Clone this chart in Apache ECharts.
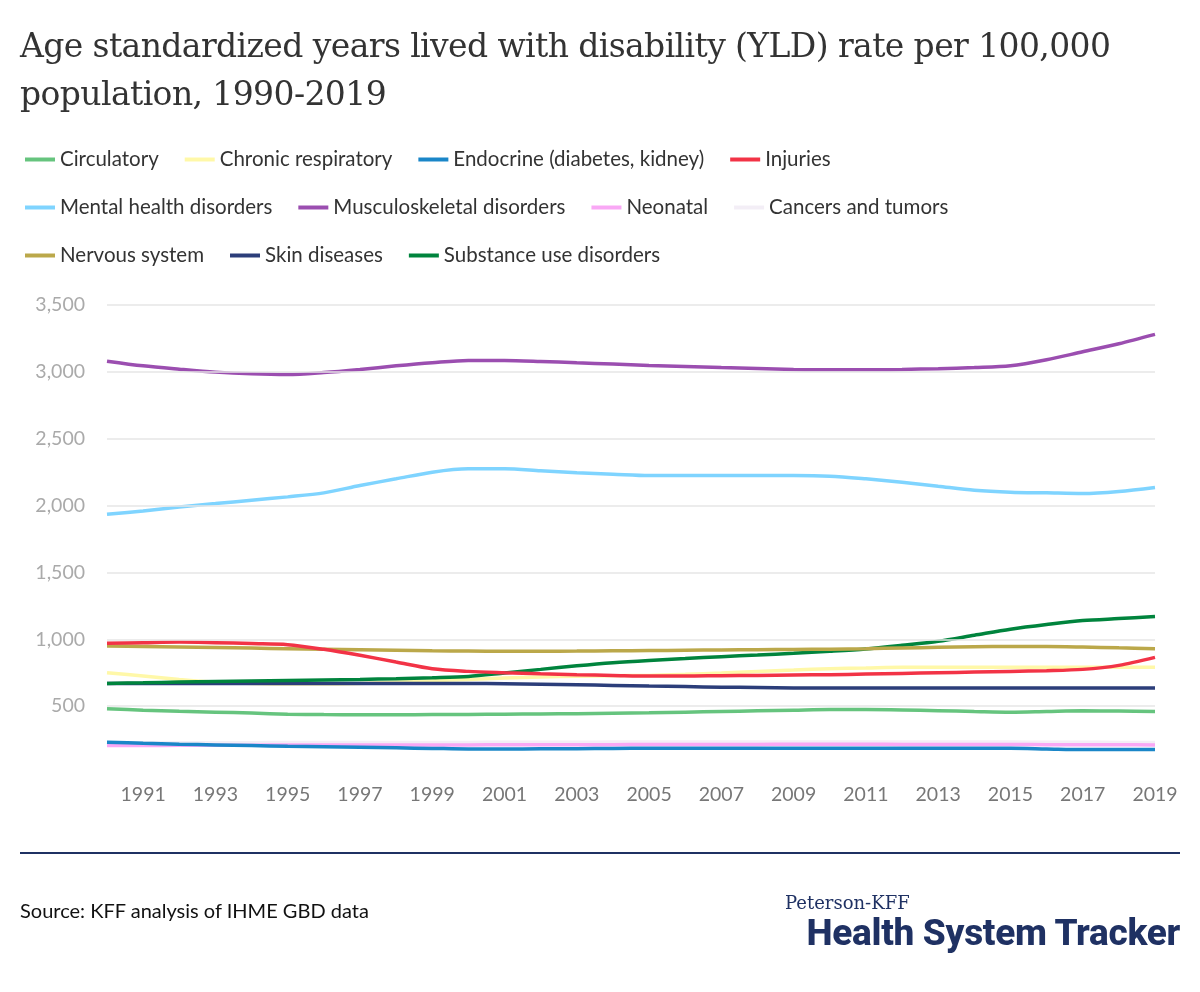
<!DOCTYPE html>
<html><head><meta charset="utf-8">
<script src="https://cdn.jsdelivr.net/npm/echarts@6/dist/echarts.min.js"></script>
<style>
body{margin:0;background:#fff;font-family:Lato,sans-serif}
#t{position:absolute;left:20px;top:22px;font:33px "DejaVu Serif",serif;color:#333;line-height:48px;letter-spacing:-0.6px}
#c{position:absolute;left:0;top:0;width:1200px;height:992px}
#hr{position:absolute;left:20px;top:852px;width:1160px;border-top:2px solid #1f3163}
#src{position:absolute;left:20px;top:898px;font-size:20px;color:#111}
#l1{position:absolute;left:785px;top:892px;font:18px "DejaVu Serif",serif;color:#1f3163}
#l2{position:absolute;right:20px;top:911px;font:800 37px Roboto,sans-serif;color:#1f3163;letter-spacing:-0.3px}
</style></head><body>
<div id="c"></div>
<div id="t">Age standardized years lived with disability (YLD) rate per 100,000<br>population, 1990-2019</div>
<div id="hr"></div>
<div id="src">Source: KFF analysis of IHME GBD data</div>
<div id="l1">Peterson-KFF</div>
<div id="l2">Health System Tracker</div>
<script>
const years = [];
for (let y = 1990; y <= 2019; y++) years.push(String(y));

const circulatory = [480,470,462,455,448,440,437,436,436,437,438,440,442,444,447,450,455,460,465,470,475,475,472,466,460,455,460,465,463,460];
const chronicResp = [750,725,700,680,670,665,665,670,680,690,700,710,718,724,728,730,738,748,760,770,780,785,790,790,790,790,790,790,790,790];
const endocrine = [230,222,215,210,205,200,196,192,188,184,180,180,181,182,183,185,185,185,185,185,185,185,185,185,185,185,180,175,175,175];
const injuries = [970,975,980,975,968,960,925,880,830,780,760,750,742,735,730,725,725,728,730,733,735,740,745,750,755,760,765,775,805,865];
const mental = [1935,1960,1990,2015,2040,2065,2095,2150,2200,2250,2275,2275,2260,2245,2235,2225,2225,2225,2225,2225,2220,2200,2175,2145,2115,2100,2095,2090,2105,2135];
const musculo = [3080,3045,3020,2998,2985,2980,2995,3018,3045,3068,3085,3085,3078,3068,3058,3048,3040,3032,3025,3018,3015,3015,3018,3024,3032,3045,3090,3150,3210,3280];
const neonatal = [205,206,207,208,208,209,209,210,210,210,210,211,211,212,212,213,213,214,214,215,215,215,214,214,213,213,212,212,211,210];
const cancers = [225,226,226,227,227,228,228,228,229,229,229,230,230,230,231,231,231,232,232,232,232,232,232,231,231,231,230,230,229,228];
const nervous = [950,946,942,938,934,930,926,922,918,914,912,911,911,912,914,916,918,920,922,924,926,930,935,940,944,946,946,942,936,930];
const skin = [670,670,670,670,670,670,670,670,670,670,670,668,664,660,655,650,646,642,639,636,635,635,635,635,635,635,635,635,635,635];
const substance = [670,675,680,684,688,692,696,700,705,712,722,748,775,802,825,842,856,870,882,895,910,928,955,985,1030,1075,1110,1140,1155,1170];

const gridVals = [500,1000,1500,2000,2500,3000,3500];

const defs = [
  ['Circulatory', circulatory, '#66c47e'],
  ['Chronic respiratory', chronicResp, '#fff8a8'],
  ['Endocrine (diabetes, kidney)', endocrine, '#1a86c8'],
  ['Injuries', injuries, '#f23346'],
  ['Mental health disorders', mental, '#7fd4ff'],
  ['Musculoskeletal disorders', musculo, '#9b4eb0'],
  ['Neonatal', neonatal, '#f9a8f5'],
  ['Cancers and tumors', cancers, '#f3eef6'],
  ['Nervous system', nervous, '#bba84a'],
  ['Skin diseases', skin, '#2c3e7a'],
  ['Substance use disorders', substance, '#00843d']
];
const order = ['Cancers and tumors','Neonatal','Endocrine (diabetes, kidney)','Circulatory','Chronic respiratory','Skin diseases','Substance use disorders','Nervous system','Injuries','Mental health disorders','Musculoskeletal disorders'];

const series = order.map(n => {
  const d = defs.find(x => x[0] === n);
  return {
    name: d[0], type: 'line', data: d[1], smooth: 0.3, showSymbol: false,
    lineStyle: { width: 3.5, color: d[2] }, itemStyle: { color: d[2] }, z: 3
  };
});
series.push({
  type: 'line', data: [], silent: true,
  markLine: { silent: true, symbol: 'none', label: { show: false },
    lineStyle: { color: '#e6e6e6', type: 'solid', width: 1.5 },
    data: gridVals.map(v => ({ yAxis: v })) },
  z: 1
});

const legendBase = {
  left: 20, icon: 'rect', itemWidth: 30, itemHeight: 4, itemGap: 26,
  textStyle: { fontSize: 20.5, color: '#333', fontFamily: 'Lato' }
};
const chart = echarts.init(document.getElementById('c'));
chart.setOption({
  animation: false,
  legend: [
    Object.assign({ top: 144, data: defs.slice(0, 4).map(d => d[0]) }, legendBase),
    Object.assign({ top: 192, data: defs.slice(4, 8).map(d => d[0]) }, legendBase),
    Object.assign({ top: 240, data: defs.slice(8).map(d => d[0]) }, legendBase)
  ],
  grid: { left: 107, right: 45, top: 305, bottom: 219 },
  xAxis: {
    type: 'category', data: years, boundaryGap: false,
    axisLine: { show: false }, axisTick: { show: false },
    axisLabel: { interval: i => i % 2 === 1, color: '#777', fontSize: 19.5, fontFamily: 'Lato', margin: 12 }
  },
  yAxis: {
    type: 'value', min: 0, max: 3500, interval: 500,
    splitLine: { show: false },
    axisLabel: { showMinLabel: false, color: '#aaa', fontSize: 19.5, fontFamily: 'Lato', margin: 22,
      formatter: v => v.toLocaleString('en-US') }
  },
  series: series
});
</script>
</body></html>
